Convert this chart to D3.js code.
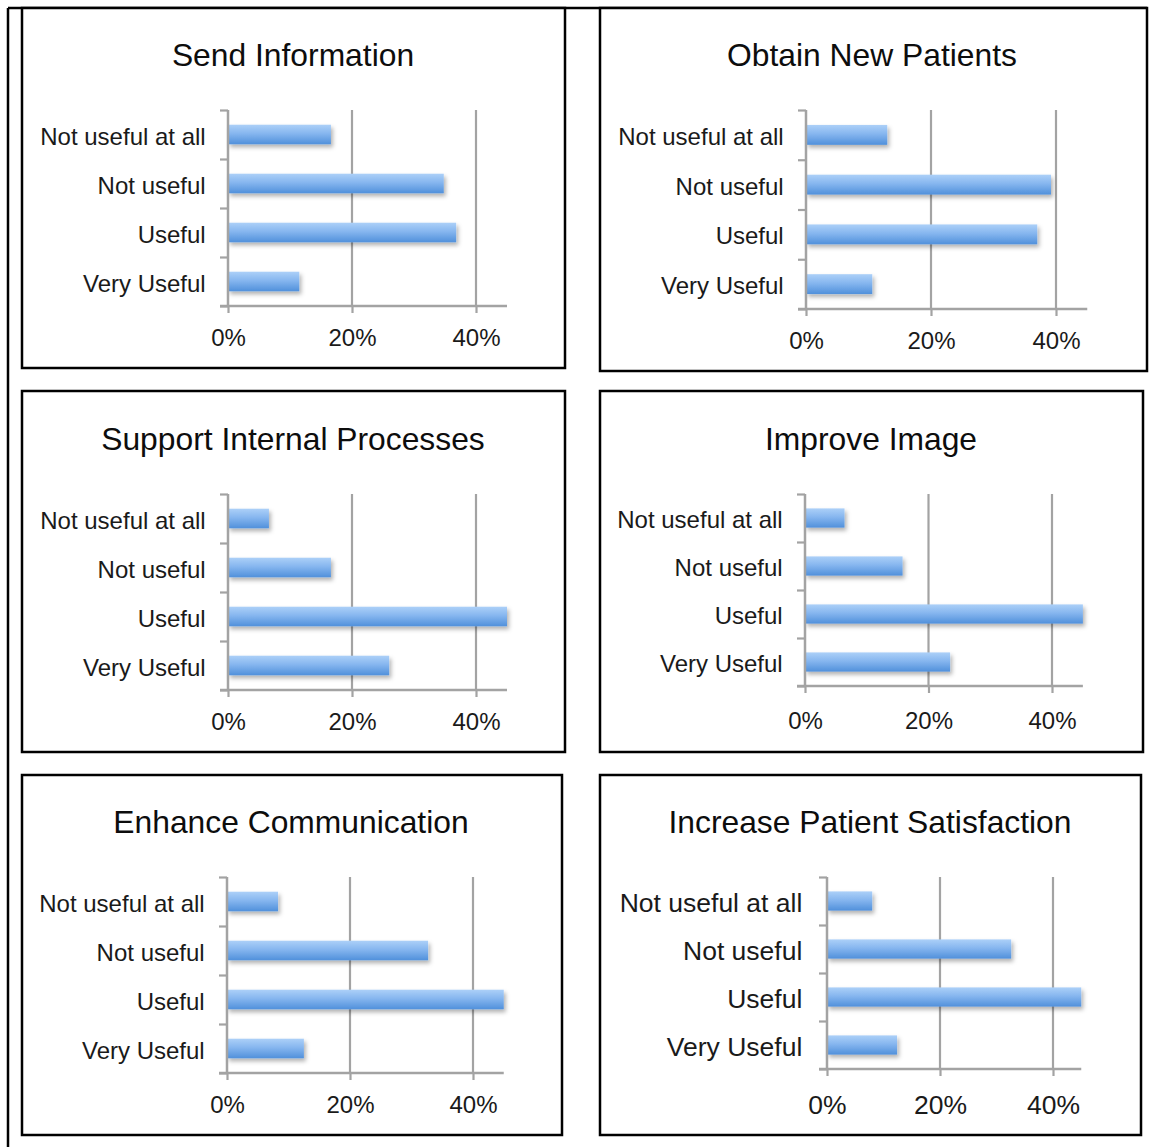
<!DOCTYPE html>
<html>
<head>
<meta charset="utf-8">
<script src="https://cdn.jsdelivr.net/npm/d3@7"></script>
<style>
  body { margin: 0; background: #fff; }
  svg { display: block; font-family: "Liberation Sans", Arial, Helvetica, sans-serif; }
</style>
</head>
<body>
<script>
// survey answers, percent of respondents
const categories = ['Not useful at all', 'Not useful', 'Useful', 'Very Useful'];
const panelTitles = ['Send Information', 'Obtain New Patients', 'Support Internal Processes',
    'Improve Image', 'Enhance Communication', 'Increase Patient Satisfaction'];
const sendInformation = [16.6, 34.8, 36.8, 11.5];
const obtainNewPatients = [13.0, 39.2, 37.0, 10.6];
const supportInternalProcesses = [6.6, 16.6, 47.0, 26.0];
const improveImage = [6.4, 15.8, 47.0, 23.5];
const enhanceCommunication = [8.3, 32.7, 46.0, 12.5];
const increasePatientSatisfaction = [8.0, 32.6, 46.0, 12.4];
const seriesValues = [sendInformation, obtainNewPatients, supportInternalProcesses,
    improveImage, enhanceCommunication, increasePatientSatisfaction];
const xTicks = [0, 20, 40];
const xMax = 45;

// each panel is a pasted screenshot, so boxes and plot areas differ slightly
const layouts = [
    { box: [22, 8, 565, 368], left: 228, top: 110, bottom: 306, step20: 124, titleX: 293, titleY: 55, tickY: 337, font: 24 },
    { box: [600, 8, 1147, 371], left: 806, top: 110, bottom: 309, step20: 125, titleX: 872, titleY: 55, tickY: 340, font: 24 },
    { box: [22, 391, 565, 752], left: 228, top: 494, bottom: 690, step20: 124, titleX: 293, titleY: 439, tickY: 721, font: 24 },
    { box: [600, 391, 1143, 752], left: 805, top: 494, bottom: 686, step20: 123.5, titleX: 871, titleY: 439, tickY: 720, font: 24 },
    { box: [22, 775, 562, 1135], left: 227, top: 877, bottom: 1073, step20: 123, titleX: 291, titleY: 822, tickY: 1104, font: 24 },
    { box: [600, 775, 1141, 1135], left: 827, top: 877, bottom: 1069, step20: 113, titleX: 870, titleY: 822, tickY: 1104, font: 26.5 }
];

const W = 1150, H = 1147;
const gridColor = '#a3a3a3';

const svg = d3.select('body').append('svg')
    .attr('width', W)
    .attr('height', H);

const defs = svg.append('defs');
const grad = defs.append('linearGradient')
    .attr('id', 'barGrad')
    .attr('x1', 0).attr('y1', 0).attr('x2', 0).attr('y2', 1);
grad.append('stop').attr('offset', '0%').attr('stop-color', '#acd0f8');
grad.append('stop').attr('offset', '45%').attr('stop-color', '#86b6ef');
grad.append('stop').attr('offset', '100%').attr('stop-color', '#5090db');

const shadow = defs.append('filter')
    .attr('id', 'barShadow')
    .attr('x', '-10%').attr('y', '-30%')
    .attr('width', '130%').attr('height', '190%');
shadow.append('feDropShadow')
    .attr('dx', 2).attr('dy', 3)
    .attr('stdDeviation', 2)
    .attr('flood-color', '#000')
    .attr('flood-opacity', 0.3);

// outer table frame
svg.append('line')
    .attr('x1', 8).attr('y1', 8).attr('x2', 8).attr('y2', H)
    .attr('stroke', '#000').attr('stroke-width', 2.5);
svg.append('line')
    .attr('x1', 8).attr('y1', 8).attr('x2', 1147).attr('y2', 8)
    .attr('stroke', '#000').attr('stroke-width', 2.5);

layouts.forEach((L, i) => {
    const values = seriesValues[i];
    const g = svg.append('g');
    const [bx0, by0, bx1, by1] = L.box;

    g.append('rect')
        .attr('x', bx0).attr('y', by0)
        .attr('width', bx1 - bx0).attr('height', by1 - by0)
        .attr('fill', '#fff')
        .attr('stroke', '#000')
        .attr('stroke-width', 2.5);

    g.append('text')
        .attr('x', L.titleX).attr('y', L.titleY)
        .attr('dy', '0.36em')
        .attr('text-anchor', 'middle')
        .attr('font-size', 31.8)
        .attr('fill', '#0d0d0d')
        .text(panelTitles[i]);

    const right = L.left + L.step20 * xMax / 20;
    const x = d3.scaleLinear().domain([0, xMax]).range([L.left, right]).clamp(true);
    const y = d3.scaleBand().domain(categories).range([L.top, L.bottom])
        .paddingInner(0.6).paddingOuter(0.3);
    const slot = d3.scaleLinear().domain([0, categories.length]).range([L.top, L.bottom]);

    // vertical gridlines
    g.append('g')
        .selectAll('line')
        .data(xTicks.filter(t => t > 0))
        .join('line')
        .attr('x1', d => x(d)).attr('x2', d => x(d))
        .attr('y1', L.top).attr('y2', L.bottom)
        .attr('stroke', gridColor)
        .attr('stroke-width', 2.2);

    // bars
    g.append('g')
        .selectAll('rect')
        .data(categories)
        .join('rect')
        .attr('x', x(0))
        .attr('y', d => y(d))
        .attr('width', (d, j) => x(values[j]) - x(0))
        .attr('height', y.bandwidth())
        .attr('fill', 'url(#barGrad)')
        .attr('filter', 'url(#barShadow)');

    // y axis with ticks between categories
    const yAxis = g.append('g')
        .attr('transform', `translate(${L.left},0)`)
        .call(d3.axisLeft(slot).tickValues(d3.range(categories.length + 1)).tickSize(8).tickFormat(''));
    yAxis.select('.domain').remove();
    yAxis.selectAll('line').attr('stroke', gridColor).attr('stroke-width', 2.2);

    // x axis
    const xAxis = g.append('g')
        .attr('transform', `translate(0,${L.bottom})`)
        .call(d3.axisBottom(x).tickValues(xTicks).tickSize(7).tickFormat(d => d + '%'));
    xAxis.select('.domain').remove();
    xAxis.selectAll('line').attr('stroke', gridColor).attr('stroke-width', 2.2);
    xAxis.selectAll('text')
        .attr('y', L.tickY - L.bottom)
        .attr('dy', '0.38em')
        .attr('font-size', L.font)
        .attr('font-family', null)
        .attr('fill', '#1a1a1a');

    g.append('line')
        .attr('x1', L.left - 8).attr('x2', right)
        .attr('y1', L.bottom).attr('y2', L.bottom)
        .attr('stroke', gridColor).attr('stroke-width', 2.5);
    g.append('line')
        .attr('x1', L.left).attr('x2', L.left)
        .attr('y1', L.top).attr('y2', L.bottom)
        .attr('stroke', gridColor).attr('stroke-width', 2.5);

    // category labels
    g.append('g')
        .selectAll('text')
        .data(categories)
        .join('text')
        .attr('x', L.left - L.font * 0.93)
        .attr('y', d => y(d) + y.bandwidth() / 2)
        .attr('dy', '0.42em')
        .attr('text-anchor', 'end')
        .attr('font-size', L.font)
        .attr('fill', '#1a1a1a')
        .text(d => d);
});
</script>
</body>
</html>
